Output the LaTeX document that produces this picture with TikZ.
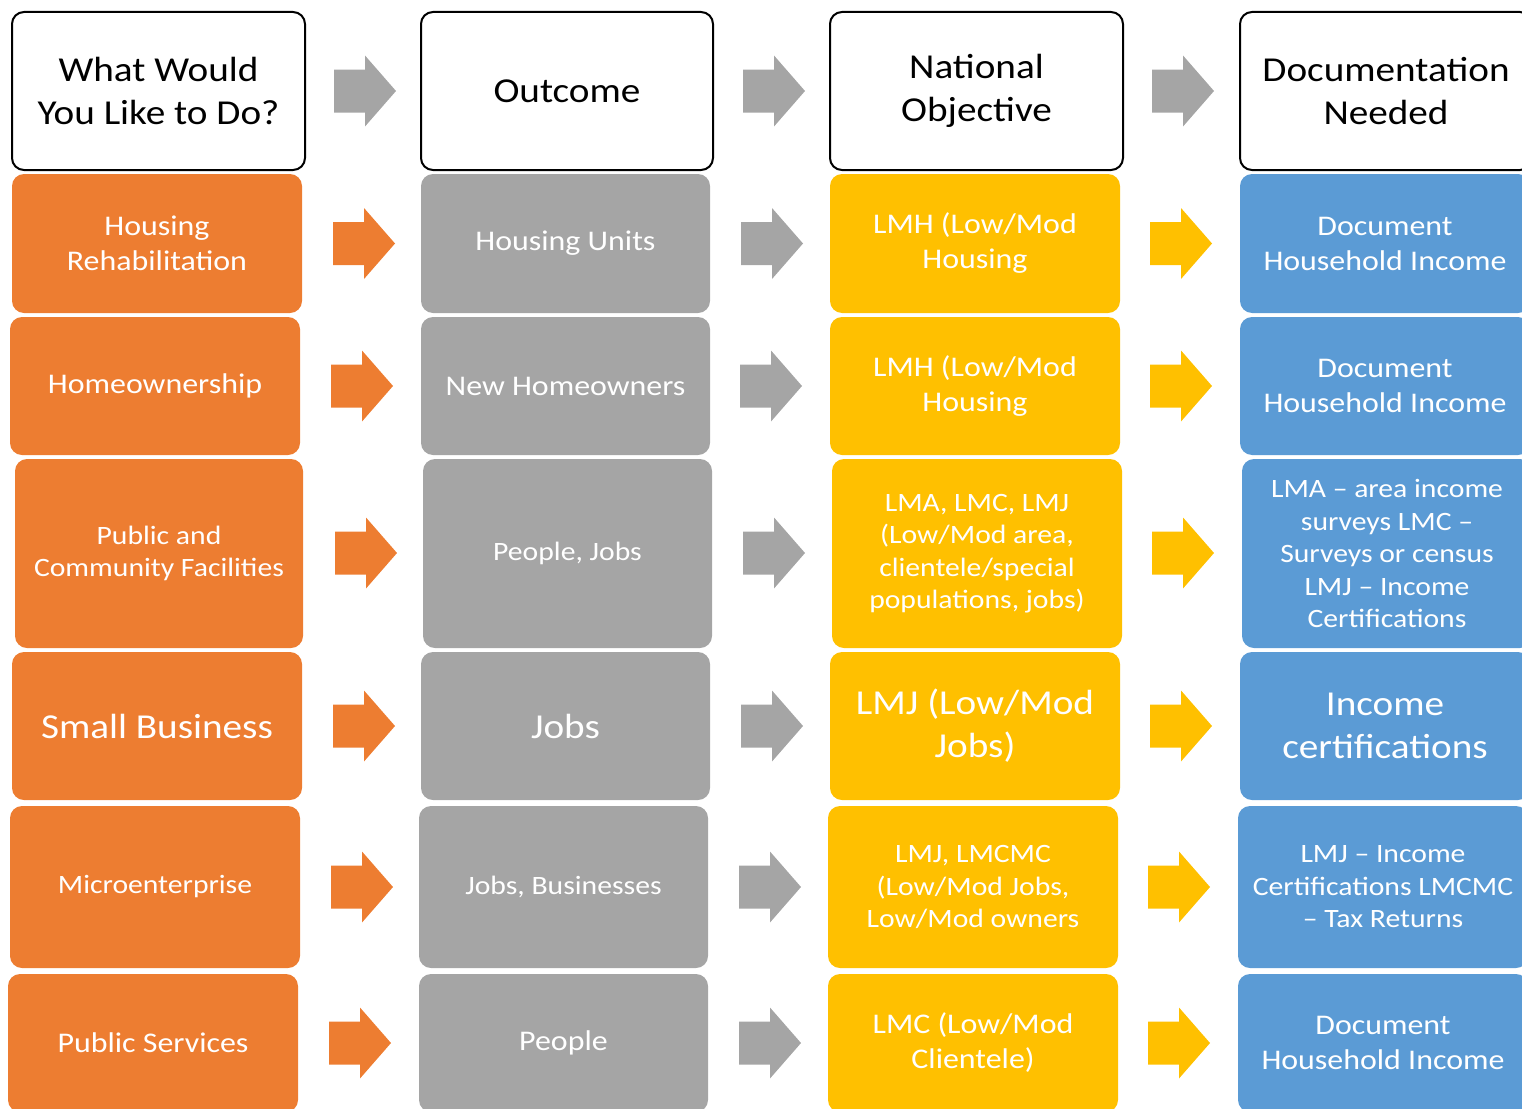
\documentclass[tikz,border=0pt]{standalone}
\usepackage{fontspec}
\setmainfont{Carlito}[FakeStretch=1.12]
\definecolor{corange}{HTML}{ED7D31}
\definecolor{cgray}{HTML}{A5A5A5}
\definecolor{cyellow}{HTML}{FFC000}
\definecolor{cblue}{HTML}{5B9BD5}
\newcommand\fsz[2]{\fontsize{#1}{#2}\selectfont}
\newcommand\barrow[3]{%
  \fill[#1] (#2,{#3-21.5}) -- ({#2+31},{#3-21.5}) -- ({#2+31},{#3-35.5}) -- ({#2+62},#3)
    -- ({#2+31},{#3+35.5}) -- ({#2+31},{#3+21.5}) -- (#2,{#3+21.5}) -- cycle;}
\begin{document}
\begin{tikzpicture}[x=1pt,y=-1pt,
  box/.style={rounded corners=12pt, inner sep=0pt, align=center, text=white},
  hdr/.style={box, draw=black, line width=2pt, fill=white, text=black, font=\fsz{35}{43}},
  c1/.style={box, fill=corange},
  c2/.style={box, fill=cgray},
  c3/.style={box, fill=cyellow},
  c4/.style={box, fill=cblue}]
\useasboundingbox (0,0) rectangle (1522,1108);
\clip (0,0) rectangle (1522,1108);
% headers
\node[hdr, minimum width=293, minimum height=158] (h1) at (158.5,91) {What Would\\You Like to Do?};
\node[hdr, minimum width=292, minimum height=158] (h2) at (567,91) {Outcome};
\node[hdr, minimum width=293, minimum height=158] (h3) at (976.5,91) {National\\Objective};
\node[hdr, minimum width=292, minimum height=158] (h4) at (1386,91) {Documentation\\Needed};
% row 1
\node[c1, minimum width=290, minimum height=139, font=\fsz{28.5}{35}] (a1) at (157,243.5) {Housing\\Rehabilitation};
\node[c2, minimum width=289, minimum height=139, font=\fsz{28.5}{35}] (b1) at (565.5,243.5) {Housing Units};
\node[c3, minimum width=290, minimum height=139, font=\fsz{28.5}{35}] (c1n) at (975,243.5) {LMH (Low/Mod\\Housing};
\node[c4, minimum width=290, minimum height=139, font=\fsz{28.5}{35}] (d1) at (1385,243.5) {Document\\Household Income};
% row 2
\node[c1, minimum width=290, minimum height=138, font=\fsz{28.5}{35}] (a2) at (155,386) {Homeownership};
\node[c2, minimum width=289, minimum height=138, font=\fsz{28.5}{35}] (b2) at (565.5,386) {New Homeowners};
\node[c3, minimum width=290, minimum height=138, font=\fsz{28.5}{35}] (c2n) at (975,386) {LMH (Low/Mod\\Housing};
\node[c4, minimum width=290, minimum height=138, font=\fsz{28.5}{35}] (d2) at (1385,386) {Document\\Household Income};
% row 3
\node[c1, minimum width=288, minimum height=189, font=\fsz{26.5}{32.5}] (a3) at (159,553.5) {Public and\\Community Facilities};
\node[c2, minimum width=289, minimum height=189, font=\fsz{26.5}{32.5}] (b3) at (567.5,553.5) {People, Jobs};
\node[c3, minimum width=290, minimum height=189, font=\fsz{26.5}{32.5}] (c3n) at (977,553.5) {LMA, LMC, LMJ\\(Low/Mod area,\\clientele/special\\populations, jobs)};
\node[c4, minimum width=290, minimum height=189, font=\fsz{26.5}{32.5}] (d3) at (1387,553.5) {LMA -- area income\\surveys LMC --\\Surveys or census\\LMJ -- Income\\Certifications};
% row 4
\node[c1, minimum width=290, minimum height=148, font=\fsz{35}{43}] (a4) at (157,726) {Small Business};
\node[c2, minimum width=289, minimum height=148, font=\fsz{35}{43}] (b4) at (565.5,726) {Jobs};
\node[c3, minimum width=290, minimum height=148, font=\fsz{35}{43}] (c4n) at (975,726) {LMJ (Low/Mod\\Jobs)};
\node[c4, minimum width=290, minimum height=148, font=\fsz{35}{43}] (d4) at (1385,726) {Income\\certifications};
% row 5
\node[c1, minimum width=290, minimum height=162, font=\fsz{26.5}{32.5}] (a5) at (155,887) {Microenterprise};
\node[c2, minimum width=289, minimum height=162, font=\fsz{26.5}{32.5}] (b5) at (563.5,887) {Jobs, Businesses};
\node[c3, minimum width=290, minimum height=162, font=\fsz{26.5}{32.5}] (c5n) at (973,887) {LMJ, LMCMC\\(Low/Mod Jobs,\\Low/Mod owners};
\node[c4, minimum width=290, minimum height=162, font=\fsz{26.5}{32.5}] (d5) at (1383,887) {LMJ -- Income\\Certifications LMCMC\\-- Tax Returns};
% row 6
\node[c1, minimum width=290, minimum height=138, font=\fsz{28.5}{35}] (a6) at (153,1043) {Public Services};
\node[c2, minimum width=289, minimum height=138, font=\fsz{28.5}{35}] (b6) at (563.5,1043) {People};
\node[c3, minimum width=290, minimum height=138, font=\fsz{28.5}{35}] (c6n) at (973,1043) {LMC (Low/Mod\\Clientele)};
\node[c4, minimum width=290, minimum height=138, font=\fsz{28.5}{35}] (d6) at (1383,1043) {Document\\Household Income};
% arrows
\barrow{cgray}{334}{91}\barrow{cgray}{743}{91}\barrow{cgray}{1152}{91}
\barrow{corange}{333}{243.5}\barrow{cgray}{741}{243.5}\barrow{cyellow}{1150}{243.5}
\barrow{corange}{331}{386}\barrow{cgray}{740}{386}\barrow{cyellow}{1150}{386}
\barrow{corange}{335}{553}\barrow{cgray}{743}{553}\barrow{cyellow}{1152}{553}
\barrow{corange}{333}{726}\barrow{cgray}{741}{726}\barrow{cyellow}{1150}{726}
\barrow{corange}{331}{887}\barrow{cgray}{739}{887}\barrow{cyellow}{1148}{887}
\barrow{corange}{329}{1043}\barrow{cgray}{739}{1043}\barrow{cyellow}{1148}{1043}
\end{tikzpicture}
\end{document}
